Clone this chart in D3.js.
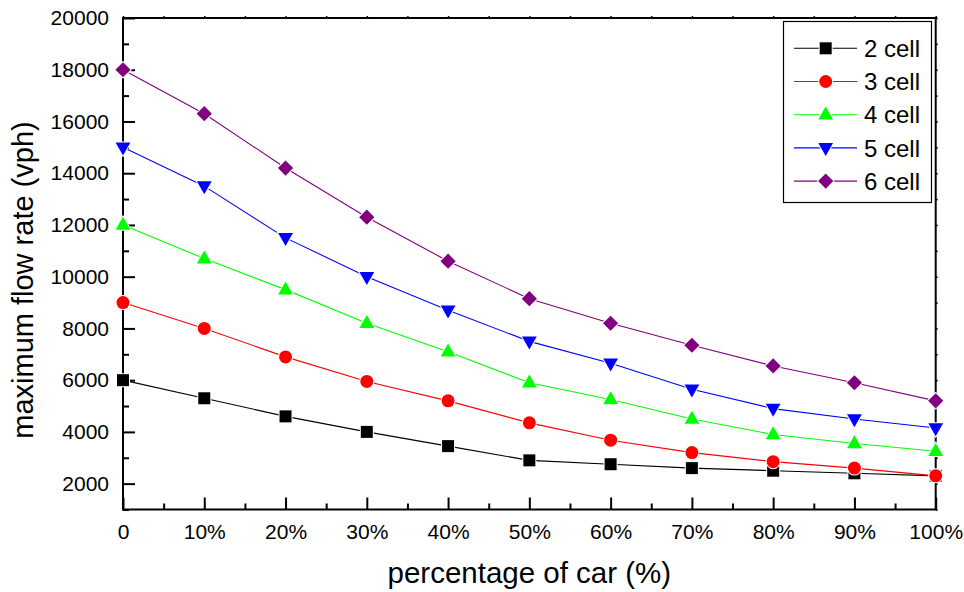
<!DOCTYPE html>
<html>
<head>
<meta charset="utf-8">
<script src="https://cdn.jsdelivr.net/npm/d3@7"></script>
<style>
  html, body { margin: 0; padding: 0; background: #fff; }
  svg { display: block; }
  text { font-family: "Liberation Sans", Arial, sans-serif; fill: #000; }
  .tick text { font-family: "Liberation Sans", Arial, sans-serif; font-size: 21px; fill: #000; }
</style>
</head>
<body>
<svg id="chart" width="964" height="592"></svg>
<script>
// Share of cars in the traffic mix (%)
const carShare = [0, 10, 20, 30, 40, 50, 60, 70, 80, 90, 100];
const xTickLabels = ["0", "10%", "20%", "30%", "40%", "50%", "60%", "70%", "80%", "90%", "100%"];
const yTicks = [2000, 4000, 6000, 8000, 10000, 12000, 14000, 16000, 18000, 20000];

// Maximum flow rate (vph) for each cell count
const cell2 = [6000, 5300, 4600, 4000, 3450, 2900, 2750, 2600, 2500, 2400, 2300];
const cell3 = [9000, 8000, 6900, 5950, 5200, 4350, 3680, 3200, 2850, 2600, 2300];
const cell4 = [12000, 10700, 9500, 8200, 7100, 5900, 5250, 4500, 3900, 3550, 3250];
const cell5 = [15000, 13500, 11500, 10000, 8700, 7500, 6650, 5650, 4900, 4500, 4150];
const cell6 = [18000, 16300, 14200, 12300, 10600, 9150, 8200, 7350, 6550, 5900, 5200];

const seriesNames = ["2 cell", "3 cell", "4 cell", "5 cell", "6 cell"];
const seriesValues = [cell2, cell3, cell4, cell5, cell6];
const seriesColors = ["#000000", "#ff0000", "#00ff00", "#0000ff", "#800080"];
const seriesShapes = ["square", "circle", "triangleUp", "triangleDown", "diamond"];

const svg = d3.select("#chart");
const plot = { left: 123, right: 935.7, top: 18, bottom: 509.5 };

const x = d3.scaleLinear().domain([0, 100]).range([plot.left, plot.right]);
const y = d3.scaleLinear().domain([1000, 20000]).range([plot.bottom, plot.top]);

// Marker outlines for each shape, centred on the data point
function markerPath(shape) {
  switch (shape) {
    case "square": return "M-6,-6H6V6H-6Z";
    case "circle": return "M-6.5,0A6.5,6.5 0 1,0 6.5,0A6.5,6.5 0 1,0 -6.5,0Z";
    case "triangleUp": return "M0,-8.2L7.4,4.8L-7.4,4.8Z";
    case "triangleDown": return "M0,8.2L7.4,-4.8L-7.4,-4.8Z";
    case "diamond": return "M0,-7.6L7.6,0L0,7.6L-7.6,0Z";
  }
}

function styleTicks(g, width) {
  g.select(".domain").remove();
  g.attr("font-size", null).attr("font-family", null);
  g.selectAll("line").attr("stroke", "#000").attr("stroke-width", width);
}

// Minor ticks (inward)
const minorX = d3.range(5, 100, 10);
const minorY = d3.range(1000, 20000, 2000);

svg.append("g")
  .attr("transform", `translate(0,${plot.bottom})`)
  .call(d3.axisBottom(x).tickValues(minorX).tickSize(-6).tickFormat(""))
  .call(g => styleTicks(g, 2));

svg.append("g")
  .attr("transform", `translate(${plot.left},0)`)
  .call(d3.axisLeft(y).tickValues(minorY).tickSize(-6).tickFormat(""))
  .call(g => styleTicks(g, 2));

// Major ticks and labels
svg.append("g")
  .attr("transform", `translate(0,${plot.bottom})`)
  .call(d3.axisBottom(x).tickValues(carShare).tickSize(-12).tickPadding(14.5)
    .tickFormat((d, i) => xTickLabels[i]))
  .call(g => styleTicks(g, 2));

svg.append("g")
  .attr("transform", `translate(${plot.left},0)`)
  .call(d3.axisLeft(y).tickValues(yTicks).tickSize(-12).tickPadding(14).tickFormat(d3.format("d")))
  .call(g => styleTicks(g, 2));

// Small outward ticks on the top and right edges
svg.append("g")
  .attr("transform", `translate(0,${plot.top})`)
  .call(d3.axisTop(x).tickValues(d3.range(0, 101, 5)).tickSize(2).tickFormat(""))
  .call(g => styleTicks(g, 1.5));

svg.append("g")
  .attr("transform", `translate(${plot.right},0)`)
  .call(d3.axisRight(y).tickValues(d3.range(1000, 20001, 1000)).tickSize(2).tickFormat(""))
  .call(g => styleTicks(g, 1.5));

// Frame
svg.append("rect")
  .attr("x", plot.left).attr("y", plot.top)
  .attr("width", plot.right - plot.left).attr("height", plot.bottom - plot.top)
  .attr("fill", "none").attr("stroke", "#000").attr("stroke-width", 2);

// Series lines and markers
const line = d3.line().x((d, i) => x(carShare[i])).y(d => y(d));

seriesValues.forEach((vals, s) => {
  const g = svg.append("g").attr("class", "series");
  g.append("path")
    .datum(vals)
    .attr("d", line)
    .attr("fill", "none")
    .attr("stroke", seriesColors[s])
    .attr("stroke-width", 1.1);
  g.selectAll("path.marker")
    .data(vals)
    .join("path")
    .attr("class", "marker")
    .attr("transform", (d, i) => `translate(${x(carShare[i])},${y(d)})`)
    .attr("d", markerPath(seriesShapes[s]))
    .attr("fill", seriesColors[s])
    .attr("stroke", "#fff")
    .attr("stroke-width", 2)
    .style("paint-order", "stroke");
});

// Axis titles
svg.append("text")
  .attr("x", (plot.left + plot.right) / 2)
  .attr("y", 582.5)
  .attr("text-anchor", "middle")
  .style("font-size", "29.5px")
  .text("percentage of car (%)");

svg.append("text")
  .attr("transform", "translate(33,280) rotate(-90)")
  .attr("text-anchor", "middle")
  .style("font-size", "29px")
  .text("maximum flow rate (vph)");

// Legend
const legend = svg.append("g");
legend.append("rect")
  .attr("x", 783.5).attr("y", 21.5)
  .attr("width", 148).attr("height", 181)
  .attr("fill", "#fff").attr("stroke", "#000").attr("stroke-width", 1.2);

seriesNames.forEach((name, s) => {
  const cy = 48.3 + s * 33.2;
  const row = legend.append("g").attr("transform", `translate(0,${cy})`);
  row.append("line")
    .attr("x1", 794).attr("x2", 857).attr("y1", 0).attr("y2", 0)
    .attr("stroke", seriesColors[s]).attr("stroke-width", 1.1);
  row.append("path")
    .attr("transform", "translate(825.7,0)")
    .attr("d", markerPath(seriesShapes[s]))
    .attr("fill", seriesColors[s])
    .attr("stroke", "#fff").attr("stroke-width", 2)
    .style("paint-order", "stroke");
  row.append("text")
    .attr("x", 864).attr("y", 0).attr("dy", "0.36em")
    .style("font-size", "24px")
    .text(name);
});
</script>
</body>
</html>
